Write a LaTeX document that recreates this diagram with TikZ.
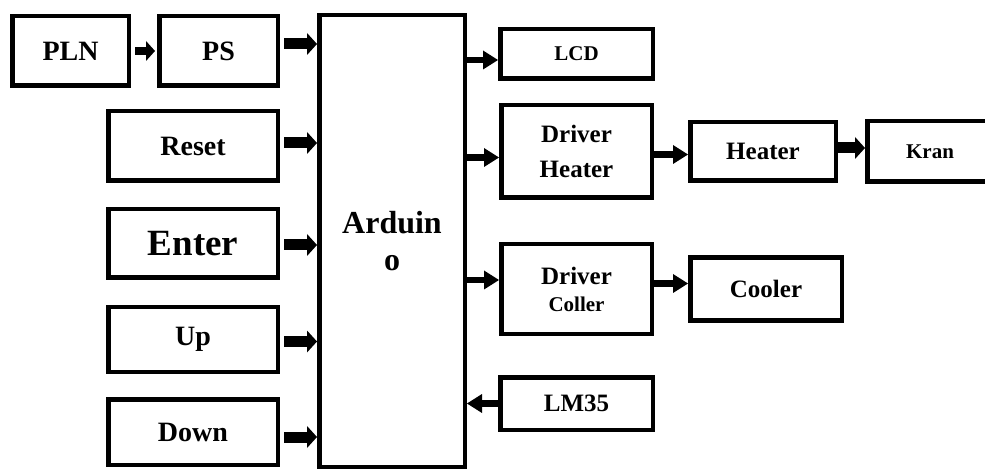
\documentclass[tikz,border=0pt]{standalone}
\usepackage{fontspec}
\setmainfont{Liberation Serif}
\usepackage{tikz}
\usetikzlibrary{arrows.meta,positioning}
\tikzset{
    block/.style={
        rectangle, draw=black, line width=4.5pt,
        align=center, inner sep=2pt,
        font=\fontsize{28}{34}\selectfont\bfseries
    },
    inbox/.style={
        block, minimum width=169.5pt, minimum height=68.5pt
    },
    outbox/.style={
        block, minimum width=150.5pt,
        font=\fontsize{25}{35}\selectfont\bfseries
    },
    arrow/.style={-{Triangle[length=15pt, width=19pt, line width=0pt]}, line width=6.5pt},
    fatarrow/.style={-{Triangle[length=10pt, width=22pt, line width=0pt]}, line width=11pt},
    inarrow/.style={fatarrow, shorten <=4pt},
    smallarrow/.style={-{Triangle[length=9pt, width=20pt, line width=0pt]}, line width=8pt,
        shorten <=4pt, shorten >=2pt},
}

\begin{document}
\begin{tikzpicture}[x=1pt, y=1pt]

    \path[use as bounding box, clip] (0,0) rectangle (985,-470);

    % Controller
    \node[block, minimum width=145.5pt, minimum height=451.5pt,
          font=\fontsize{32}{37}\selectfont\bfseries] (ard) at (392,-241)
        {Arduin\\o};

    % Inputs
    \node[inbox, left=37pt of ard, yshift=-2.5pt,
          font=\fontsize{37}{44}\selectfont\bfseries] (enter) {Enter};
    \node[inbox, minimum height=69.5pt, above=24pt of enter] (reset) {Reset};
    \node[inbox, minimum height=64.5pt, below=25pt of enter] (up) {Up};
    \node[inbox, minimum height=65.5pt, below=23pt of up] (down) {Down};

    \node[block, minimum width=118.5pt, minimum height=69.5pt,
          above left=21pt and 0pt of reset.north east] (ps) {PS};
    \node[block, minimum width=116.5pt, minimum height=69.5pt,
          left=26pt of ps] (pln) {PLN};

    % Outputs
    \node[outbox, minimum width=152.5pt, minimum height=49.5pt,
          font=\fontsize{21}{25}\selectfont\bfseries,
          below right=14pt and 31pt of ard.north east] (lcd) {LCD};
    \node[outbox, minimum height=92.5pt, below=22pt of lcd] (drvheat)
        {Driver\\Heater};
    \node[outbox, minimum height=89.5pt, below=42pt of drvheat] (drvcool)
        {Driver\\[-8pt]{\fontsize{21}{25}\selectfont Coller}};
    \node[outbox, minimum width=152.5pt, minimum height=52.5pt,
          below=39pt of drvcool] (lm) {LM35};

    \node[outbox, minimum width=145.5pt, minimum height=58.5pt,
          right=34pt of drvheat] (heater) {Heater};
    \node[outbox, minimum width=125.5pt, minimum height=60.5pt,
          font=\fontsize{21}{25}\selectfont\bfseries,
          right=27pt of heater] (kran) {Kran};
    \node[outbox, minimum width=151.5pt, minimum height=62.5pt,
          right=34pt of drvcool] (cooler) {Cooler};

    % Arrows into the controller
    \draw[smallarrow] (pln) -- (ps);
    \draw[inarrow] ([yshift=7pt]ps.east) -- ([yshift=7pt]ps.east -| ard.west);
    \draw[inarrow] ([yshift=3pt]reset.east) -- ([yshift=3pt]reset.east -| ard.west);
    \draw[inarrow] ([yshift=-1.5pt]enter.east) -- ([yshift=-1.5pt]enter.east -| ard.west);
    \draw[inarrow] ([yshift=-2pt]up.east) -- ([yshift=-2pt]up.east -| ard.west);
    \draw[inarrow] ([yshift=-5pt]down.east) -- ([yshift=-5pt]down.east -| ard.west);
    \draw[arrow] (lm) -- (lm -| ard.east);

    % Arrows out of the controller
    \draw[arrow] ([yshift=-6pt]lcd.west -| ard.east) -- ([yshift=-6pt]lcd.west);
    \draw[arrow] ([yshift=-6pt]drvheat.west -| ard.east) -- ([yshift=-6pt]drvheat.west);
    \draw[arrow] ([yshift=9pt]drvcool.west -| ard.east) -- ([yshift=9pt]drvcool.west);
    \draw[arrow] ([yshift=-3pt]drvheat.east) -- ([yshift=-3pt]drvheat.east -| heater.west);
    \draw[fatarrow] ([yshift=3.5pt]heater.east) -- ([yshift=3.5pt]heater.east -| kran.west);
    \draw[arrow] ([yshift=5.5pt]drvcool.east) -- ([yshift=5.5pt]drvcool.east -| cooler.west);

\end{tikzpicture}
\end{document}
